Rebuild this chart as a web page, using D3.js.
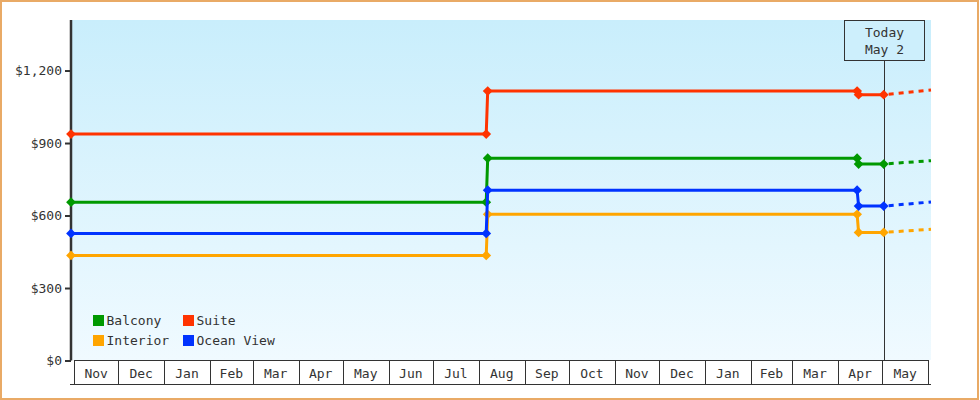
<!DOCTYPE html>
<html>
<head>
<meta charset="utf-8">
<script src="https://cdn.jsdelivr.net/npm/d3@7"></script>
<style>
  body { margin: 0; background: #fff; }
  svg text { font-family: "DejaVu Sans Mono", monospace; font-size: 13px; fill: #333; }
</style>
</head>
<body>
<svg id="chart" width="980" height="400"></svg>
<script>
// price history, one value per date
let dates = ["2023-10-30", "2024-08-06", "2024-08-07", "2025-04-14", "2025-04-15", "2025-05-02"],
    balcony = [655, 655, 837, 837, 813, 813],
    suite = [937, 937, 1115, 1115, 1100, 1100],
    interior = [435, 435, 605, 605, 530, 530],
    oceanView = [526, 526, 705, 705, 639, 639];

// projection after today
let forecastDates = ["2025-05-02", "2025-06-03"],
    balconyForecast = [813, 827],
    suiteForecast = [1100, 1119],
    interiorForecast = [530, 543],
    oceanViewForecast = [639, 656];

let yTicks = [0, 300, 600, 900, 1200],
    monthLabels = ["Nov", "Dec", "Jan", "Feb", "Mar", "Apr", "May", "Jun", "Jul", "Aug",
                   "Sep", "Oct", "Nov", "Dec", "Jan", "Feb", "Mar", "Apr", "May"],
    todayLabel = ["Today", "May 2"],
    today = "2025-05-02";

let series = [
    {name: "Balcony", color: "#009900", values: balcony, forecast: balconyForecast},
    {name: "Suite", color: "#ff3300", values: suite, forecast: suiteForecast},
    {name: "Interior", color: "#ffa500", values: interior, forecast: interiorForecast},
    {name: "Ocean View", color: "#0033ff", values: oceanView, forecast: oceanViewForecast}
];

let parse = d3.utcParse("%Y-%m-%d"),
    svg = d3.select("#chart"),
    plotLeft = 71, plotRight = 931, plotTop = 20, plotBottom = 360.5;

let x = d3.scaleUtc()
    .domain([parse("2023-10-30"), parse("2025-06-03")])
    .range([plotLeft, plotRight]);
let y = d3.scaleLinear()
    .domain([0, 1400])
    .range([plotBottom, 22.2]);

// frame
svg.append("rect")
    .attr("x", 1).attr("y", 1).attr("width", 977).attr("height", 398)
    .attr("fill", "#fff").attr("stroke", "#e9aa66").attr("stroke-width", 2);

let grad = svg.append("defs").append("linearGradient")
    .attr("id", "bg").attr("x1", 0).attr("y1", 0).attr("x2", 0).attr("y2", 1);
grad.append("stop").attr("offset", "0%").attr("stop-color", "#c9eefc");
grad.append("stop").attr("offset", "100%").attr("stop-color", "#f0faff");

svg.append("rect")
    .attr("x", plotLeft).attr("y", plotTop)
    .attr("width", plotRight - plotLeft).attr("height", 360 - plotTop)
    .attr("fill", "url(#bg)");

// month boxes
let monthStarts = d3.utcMonth.range(parse("2023-11-01"), parse("2025-06-02"));
let axisG = svg.append("g");
axisG.append("line")
    .attr("x1", x(monthStarts[0])).attr("x2", x(monthStarts[monthStarts.length - 1]))
    .attr("y1", 360.5).attr("y2", 360.5)
    .attr("stroke", "#333");
axisG.append("line")
    .attr("x1", 70).attr("x2", plotRight)
    .attr("y1", 384.5).attr("y2", 384.5)
    .attr("stroke", "#333");
axisG.selectAll(".sep")
    .data(monthStarts)
    .join("line")
    .attr("x1", d => Math.round(x(d)) + 0.5).attr("x2", d => Math.round(x(d)) + 0.5)
    .attr("y1", 360).attr("y2", 385)
    .attr("stroke", "#333");
axisG.selectAll(".mlabel")
    .data(monthLabels)
    .join("text")
    .attr("x", (d, i) => (x(monthStarts[i]) + x(monthStarts[i + 1])) / 2)
    .attr("y", 378)
    .attr("text-anchor", "middle")
    .text(d => d);

// y axis
let yAxis = svg.append("g")
    .attr("transform", "translate(" + plotLeft + ",0)")
    .call(d3.axisLeft(y).tickValues(yTicks).tickFormat(d3.format("$,")).tickSize(6).tickSizeOuter(0).tickPadding(3));
yAxis.select(".domain").attr("stroke", "#333").attr("stroke-width", 2.5)
    .attr("d", "M0," + plotTop + "V" + plotBottom);
yAxis.selectAll(".tick line").attr("stroke", "#333").attr("stroke-width", 2);
yAxis.selectAll(".tick text").attr("font-family", null).attr("font-size", null).attr("fill", null);

// today marker
let tx = Math.round(x(parse(today))) + 0.5;
svg.append("line")
    .attr("x1", tx).attr("x2", tx).attr("y1", 60).attr("y2", 360)
    .attr("stroke", "#333");
svg.append("rect")
    .attr("x", tx - 40).attr("y", 20.5).attr("width", 80).attr("height", 40)
    .attr("fill", "#cdeffc").attr("stroke", "#333");
svg.selectAll(".today")
    .data(todayLabel)
    .join("text")
    .attr("x", tx).attr("y", (d, i) => 37 + i * 17)
    .attr("text-anchor", "middle")
    .text(d => d);

// lines
let line = d3.line().x(d => x(d[0])).y(d => y(d[1]));
let marker = d3.symbol().type(d3.symbolSquare).size(48);

series.forEach(s => {
    let pts = dates.map((d, i) => [parse(d), s.values[i]]);
    let fpts = forecastDates.map((d, i) => [parse(d), s.forecast[i]]);
    svg.append("path")
        .attr("d", line(fpts))
        .attr("fill", "none").attr("stroke", s.color)
        .attr("stroke-width", 3).attr("stroke-dasharray", "5,5")
        .attr("stroke-dashoffset", -5);
    svg.append("path")
        .attr("d", line(pts))
        .attr("fill", "none").attr("stroke", s.color)
        .attr("stroke-width", 3);
    svg.selectAll(null)
        .data(pts)
        .join("path")
        .attr("d", marker)
        .attr("transform", d => "translate(" + x(d[0]) + "," + y(d[1]) + ") rotate(45)")
        .attr("fill", s.color);
});

// legend
let legend = svg.append("g").attr("transform", "translate(93,315)");
let item = legend.selectAll("g")
    .data(series)
    .join("g")
    .attr("transform", (d, i) => "translate(" + (i % 2) * 90 + "," + Math.floor(i / 2) * 20 + ")");
item.append("rect").attr("width", 11).attr("height", 11).attr("fill", d => d.color);
item.append("text").attr("x", 13.5).attr("y", 9.5).text(d => d.name);
</script>
</body>
</html>
